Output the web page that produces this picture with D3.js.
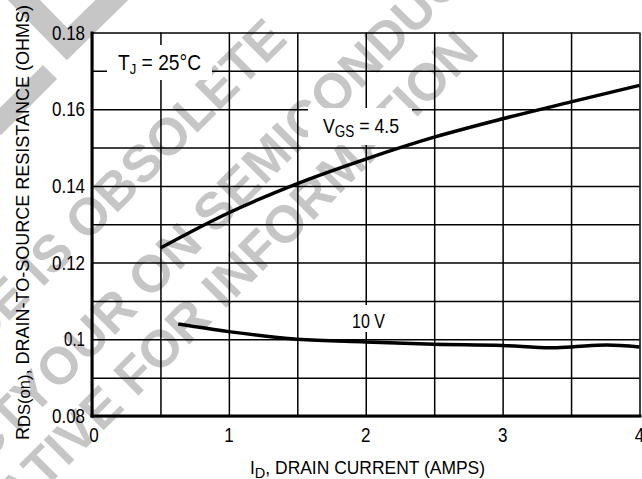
<!DOCTYPE html>
<html>
<head>
<meta charset="utf-8">
<script src="https://cdn.jsdelivr.net/npm/d3@7"></script>
<style>
  body { margin: 0; background: #fff; }
  svg { display: block; }
  .lbl { font-family: 'Liberation Sans', Arial, sans-serif; fill: #000; }
  .wm { font-family: 'Liberation Sans', Arial, sans-serif; font-weight: bold; fill: #c6c6c6; }
</style>
</head>
<body>
<svg id="canvas"></svg>
<script>
// drain current (A) vs Rds(on) (ohms)
const currentTicks = [0, 1, 2, 3, 4]
const resTicks = [0.08, 0.1, 0.12, 0.14, 0.16, 0.18]
const resTickLabels = ['0.08', '0.1', '0.12', '0.14', '0.16', '0.18']
const gridX = [0, 0.5, 1, 1.5, 2, 2.5, 3, 3.5, 4]
const gridY = [0.08, 0.09, 0.1, 0.11, 0.12, 0.13, 0.14, 0.15, 0.16, 0.17, 0.18]

const vgs45Current = [0.5, 1, 1.5, 2, 2.5, 3, 3.5, 4]
const vgs45Res = [0.1238, 0.133, 0.1406, 0.147, 0.1527, 0.1575, 0.1619, 0.1662]

const vgs10Current = [0.63, 1, 1.5, 2, 2.5, 3, 3.35, 3.5, 3.76, 4]
const vgs10Res = [0.104, 0.102, 0.1, 0.0993, 0.0987, 0.0984, 0.0978, 0.098, 0.0985, 0.098]

const width = 642
const height = 479
const padLeft = 92, padRight = 639.5, padTop = 32.5, padBottom = 416

const svg = d3.select('#canvas')
    .attr('width', width)
    .attr('height', height)

const x = d3.scaleLinear().domain([0, 4]).range([padLeft, padRight])
const y = d3.scaleLinear().domain([0.08, 0.18]).range([padBottom, padTop])

// watermark (behind everything)
const wm = svg.append('g')
wm.append('path')
    .attr('d', 'M16,-8 L67,44 L122,-10')
    .attr('fill', 'none')
    .attr('stroke', '#c6c6c6')
    .attr('stroke-width', 23)
wm.append('path')
    .attr('d', 'M-6,128 L50,72')
    .attr('stroke', '#c6c6c6')
    .attr('stroke-width', 20)

function wmLine(px, py, before, after) {
    const g = wm.append('g').attr('transform', 'translate(' + px + ',' + py + ') rotate(-45)')
    g.append('text').attr('class', 'wm').attr('font-size', 52).attr('text-anchor', 'end').text(before)
    g.append('text').attr('class', 'wm').attr('font-size', 52).attr('text-anchor', 'start').text(after)
}
wmLine(289, 41, 'THIS DEVICE IS OBSOLETE', '')
wmLine(33, 417, 'PLEASE CONTACT ', 'YOUR ON SEMICONDUCTOR')
wmLine(44, 490, 'REPRESENTA', 'TIVE FOR INFORMATION')

// grid
svg.append('g')
    .attr('transform', 'translate(0,' + padBottom + ')')
    .call(d3.axisBottom(x).tickValues(gridX).tickSize(-(padBottom - padTop)).tickFormat(''))
    .call(g => g.select('.domain').remove())
    .selectAll('line').attr('stroke', '#000').attr('stroke-width', 1.5)

svg.append('g')
    .attr('transform', 'translate(' + padLeft + ',0)')
    .call(d3.axisLeft(y).tickValues(gridY).tickSize(-(padRight - padLeft)).tickFormat(''))
    .call(g => g.select('.domain').remove())
    .selectAll('line').attr('stroke', '#000').attr('stroke-width', 1.5)

// label boxes that mask the grid
svg.append('rect').attr('x', 107).attr('y', 45).attr('width', 105).attr('height', 35).attr('fill', '#fff')
svg.append('rect').attr('x', 308).attr('y', 108).attr('width', 104).attr('height', 37).attr('fill', '#fff')
svg.append('rect').attr('x', 350).attr('y', 305).attr('width', 38).attr('height', 27).attr('fill', '#fff')

// curves
const line = d3.line()
    .x(d => x(d[0]))
    .y(d => y(d[1]))
    .curve(d3.curveMonotoneX)

svg.append('path')
    .datum(d3.zip(vgs45Current, vgs45Res))
    .attr('d', line)
    .attr('fill', 'none')
    .attr('stroke', '#000')
    .attr('stroke-width', 3.5)

svg.append('path')
    .datum(d3.zip(vgs10Current, vgs10Res))
    .attr('d', line)
    .attr('fill', 'none')
    .attr('stroke', '#000')
    .attr('stroke-width', 3.5)

// heavy axis lines
svg.append('line').attr('x1', padLeft).attr('x2', padLeft).attr('y1', padTop - 1).attr('y2', padBottom + 1.5)
    .attr('stroke', '#000').attr('stroke-width', 3)
svg.append('line').attr('x1', padLeft - 1.5).attr('x2', padRight + 2).attr('y1', padBottom).attr('y2', padBottom)
    .attr('stroke', '#000').attr('stroke-width', 3)

// tick labels (narrow face, so squeeze to width)
svg.selectAll('.ylab')
    .data(resTicks)
    .enter()
    .append('text')
    .attr('class', 'lbl ylab')
    .attr('x', 85)
    .attr('y', d => y(d) + 7)
    .attr('text-anchor', 'end')
    .attr('font-size', 19.5)
    .attr('textLength', (d, i) => resTickLabels[i].length === 3 ? 21 : 33)
    .attr('lengthAdjust', 'spacingAndGlyphs')
    .text((d, i) => resTickLabels[i])

svg.selectAll('.xlab')
    .data(currentTicks)
    .enter()
    .append('text')
    .attr('class', 'lbl xlab')
    .attr('x', d => x(d) + (d === 0 ? 2 : 0))
    .attr('y', 442)
    .attr('text-anchor', 'middle')
    .attr('font-size', 19.5)
    .attr('textLength', 9.5)
    .attr('lengthAdjust', 'spacingAndGlyphs')
    .text(d => d)

// annotations
const tj = svg.append('text').attr('class', 'lbl').attr('x', 118).attr('y', 70).attr('font-size', 22)
    .attr('textLength', 83).attr('lengthAdjust', 'spacingAndGlyphs')
tj.append('tspan').text('T')
tj.append('tspan').attr('font-size', 15).attr('dy', 4).text('J')
tj.append('tspan').attr('dy', -4).text(' =  25°C')

const vgs = svg.append('text').attr('class', 'lbl').attr('x', 323).attr('y', 133).attr('font-size', 21)
    .attr('textLength', 76).attr('lengthAdjust', 'spacingAndGlyphs')
vgs.append('tspan').text('V')
vgs.append('tspan').attr('font-size', 16).attr('dy', 4).text('GS')
vgs.append('tspan').attr('dy', -4).text(' = 4.5')

svg.append('text').attr('class', 'lbl').attr('x', 352).attr('y', 328).attr('font-size', 19.5)
    .attr('textLength', 33).attr('lengthAdjust', 'spacingAndGlyphs').text('10 V')

// axis titles
const xt = svg.append('text').attr('class', 'lbl').attr('x', 250).attr('y', 474)
    .attr('font-size', 18).attr('textLength', 235).attr('lengthAdjust', 'spacingAndGlyphs')
xt.append('tspan').text('I')
xt.append('tspan').attr('font-size', 15).attr('dy', 4).text('D')
xt.append('tspan').attr('dy', -4).text(', DRAIN CURRENT (AMPS)')

const yt = svg.append('text').attr('class', 'lbl')
    .attr('transform', 'translate(29,440) rotate(-90)')
    .attr('font-size', 18.5).attr('textLength', 435).attr('lengthAdjust', 'spacingAndGlyphs')
yt.append('tspan').text('R')
yt.append('tspan').attr('font-size', 17).attr('dy', 1).text('DS(on)')
yt.append('tspan').attr('dy', -1).text(', DRAIN-TO-SOURCE RESISTANCE (OHMS)')
</script>
</body>
</html>
